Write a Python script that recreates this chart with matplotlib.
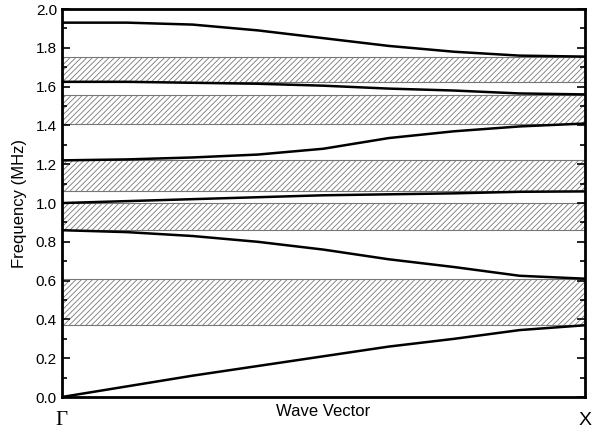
import numpy as np
import matplotlib.pyplot as plt
from matplotlib.ticker import MultipleLocator

plt.rcParams['font.family'] = ['Liberation Sans', 'DejaVu Sans']
plt.rcParams['hatch.linewidth'] = 0.6

# position along Gamma -> X (fraction)
k = [0.0, 0.125, 0.25, 0.375, 0.5, 0.625, 0.75, 0.875, 1.0]

# dispersion branches (MHz)
band1 = [0.00, 0.055, 0.11, 0.16, 0.21, 0.26, 0.30, 0.345, 0.37]
band2 = [0.86, 0.85, 0.83, 0.80, 0.76, 0.71, 0.67, 0.625, 0.61]
band3 = [1.00, 1.01, 1.02, 1.03, 1.04, 1.045, 1.05, 1.058, 1.06]
band4 = [1.22, 1.225, 1.235, 1.25, 1.28, 1.335, 1.37, 1.395, 1.41]
band5 = [1.625, 1.625, 1.62, 1.615, 1.605, 1.59, 1.58, 1.565, 1.56]
band6 = [1.93, 1.93, 1.92, 1.89, 1.85, 1.81, 1.78, 1.76, 1.755]
bands = [band1, band2, band3, band4, band5, band6]

# band gaps (lower, upper)
gaps = [(0.37, 0.61), (0.86, 1.00), (1.06, 1.22), (1.41, 1.555), (1.625, 1.755)]

fig = plt.figure(figsize=(6, 4.32), dpi=100)
ax = fig.add_axes([0.103, 0.081, 0.872, 0.898])

for lo, hi in gaps:
    ax.axhspan(lo, hi, facecolor='white', edgecolor='#777777', hatch='//////', linewidth=0.8, zorder=1)

for b in bands:
    ax.plot(k, b, color='black', linewidth=1.8, zorder=3)

ax.set_xlim(0, 1)
ax.set_ylim(0, 2.0)
ax.yaxis.set_major_locator(MultipleLocator(0.2))
ax.yaxis.set_minor_locator(MultipleLocator(0.1))
ax.yaxis.set_major_formatter(plt.FormatStrFormatter('%.1f'))
ax.tick_params(axis='y', which='both', direction='in', right=True, labelsize=11, width=1.2)
ax.tick_params(axis='y', which='major', length=6)
ax.tick_params(axis='y', which='minor', length=3.5)
ax.set_xticks([])
for s in ax.spines.values():
    s.set_linewidth(2)

ax.set_ylabel('Frequency (MHz)', fontsize=12, labelpad=6)
ax.set_xlabel('Wave Vector', fontsize=12, labelpad=5)
ax.text(0, -0.06, 'Γ', transform=ax.transAxes, ha='center', va='center',
        fontsize=15, family=['Liberation Serif', 'DejaVu Serif'])
ax.text(1, -0.06, 'X', transform=ax.transAxes, ha='center', va='center', fontsize=14)

fig.savefig('out.png', dpi=100)
